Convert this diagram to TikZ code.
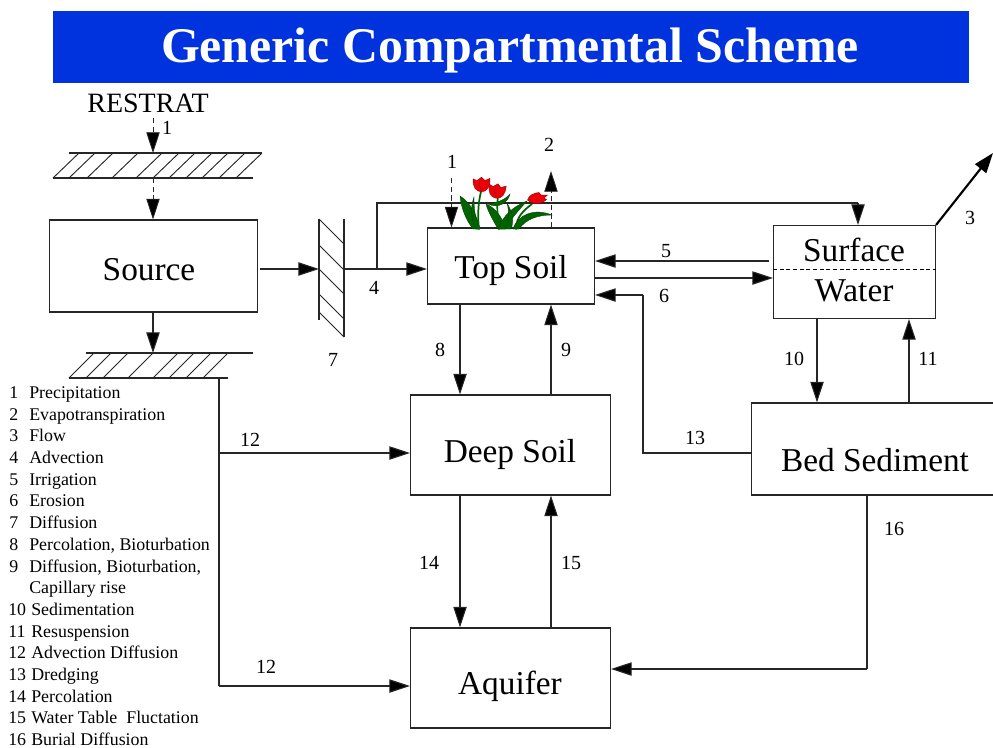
\documentclass[tikz,border=0pt]{standalone}
\usepackage{fontspec}
\setmainfont{Liberation Serif}
\usetikzlibrary{arrows.meta}
\definecolor{titleblue}{RGB}{0,51,221}
\definecolor{leaf}{RGB}{0,100,0}
\definecolor{leafd}{RGB}{0,60,0}
\definecolor{petal}{RGB}{235,0,10}
\definecolor{petald}{RGB}{150,0,0}
\tikzset{
  x=0.75pt,y=-0.75pt,
  ln/.style={draw=black!85,line width=0.8pt},
  flow/.style={ln,-{Triangle[length=15.5pt,width=10pt]},arrows={[fill=black]}},
  dflow/.style={flow,line width=0.6pt,dash pattern=on 4pt off 2.5pt},
  boxn/.style={draw=black!85,line width=0.8pt,inner sep=0pt},
  boxt/.style={font=\fontsize{25}{28}\selectfont,inner sep=0pt},
  num/.style={font=\fontsize{15}{17}\selectfont,inner sep=0pt},
  legend/.style={font=\fontsize{13.4}{15}\selectfont,inner sep=0pt,anchor=base west},
  hatch/.style={draw=black!85,line width=0.7pt},
  blade/.style={fill=leaf,draw=leafd,line width=0.25pt},
  stem/.style={draw=leaf,line width=1.3pt},
}
\newcommand{\tulip}[3]{%
  \begin{scope}[shift={(#1,#2)},rotate=#3,scale=1.12]
  \fill[petal,draw=petald,line width=0.3pt] (-7.5,-5) -- (-4,-3.5) -- (0,-6.5) -- (3,-3.5) -- (7.5,-5.5) .. controls (8,2) and (5,6.5) .. (0,6.5) .. controls (-5,6.5) and (-8,2) .. (-7.5,-5) -- cycle;
  \draw[petald,line width=0.3pt] (-2,-3) .. controls (-3,0) and (-2,3) .. (0,5);
  \end{scope}}
\begin{document}
\begin{tikzpicture}
\useasboundingbox (0,0) rectangle (993,747);
\fill[white] (0,0) rectangle (993,747);
% title
\node[fill=titleblue,minimum width=916*0.75pt,minimum height=72*0.75pt,inner sep=0pt] (banner) at (511,47) {};
\node[text=white,inner sep=0pt,font=\fontsize{37.4}{40}\selectfont\bfseries] (title) at (510,51) {Generic Compartmental Scheme};
% boxes
\node[boxn,minimum width=208*0.75pt,minimum height=92*0.75pt] (source) at (153.5,266) {};
\node[boxt] (sourcet) at (149,270) {Source};
\node[boxn,minimum width=167*0.75pt,minimum height=76*0.75pt] (top) at (511,266) {};
\node[boxt] (topt) at (511,270) {Top Soil};
\node[boxn,minimum width=162*0.75pt,minimum height=93*0.75pt] (surf) at (854.5,272) {};
\node[boxt] (surft) at (854,250) {Surface};
\node[boxt] (surfw) at (854,291) {Water};
\node[boxn,minimum width=200*0.75pt,minimum height=100*0.75pt] (deep) at (510.5,445) {};
\node[boxt] (deept) at (510,454) {Deep Soil};
\node[boxn,minimum width=247*0.75pt,minimum height=92*0.75pt] (bed) at (875,449) {};
\node[boxt] (bedt) at (875,460) {Bed Sediment};
\node[boxn,minimum width=200*0.75pt,minimum height=100*0.75pt] (aq) at (510.5,678) {};
\node[boxt] (aqt) at (510,686) {Aquifer};
\draw[line width=0.6pt,dash pattern=on 3pt off 2pt] (surf.west |- 0,269) -- (surf.east |- 0,269);
% RESTRAT
\node[font=\fontsize{21}{24}\selectfont,inner sep=0pt] (restrat) at (148,103) {RESTRAT};
\node[num] (n1a) at (167,128) {1};
% upper hatch
\coordinate (h1t) at (153,153);
\coordinate (h1b) at (153,178);
\draw[ln] (69,153) -- (262,153);
\draw[ln] (53,178) -- (253,178);
\foreach \x in {53,69,87,112,136,153,169,186,202,219,236}
  \draw[hatch] (\x,178) -- (\x+26,153);
\draw[dflow] (153,118) -- (h1t);
\draw[dflow] (h1b) -- (source.north -| h1b);
% lower hatch
\coordinate (h2t) at (153,353);
\draw[flow] (source.south -| h2t) -- (h2t);
\draw[ln] (86,353) -- (253,353);
\draw[ln] (69,378) -- (228,378);
\foreach \x in {69,86,103,128,153,169,186,203}
  \draw[hatch] (\x,378) -- (\x+25,353);
% vertical hatch 7
\draw[ln] (319,219) -- (319,320);
\draw[ln] (344,219) -- (344,337);
\foreach \y in {219,245,269,294,312}
  \draw[hatch] (319,\y) -- (344,\y+25);
\coordinate (h7l) at (319,269);
\coordinate (h7r) at (344,269);
\draw[flow] (260,269) -- (h7l);
\draw[flow] (h7r) -- (top.west |- h7r);
\node[num] (n7) at (333,360) {7};
\node[num] (n4) at (374,288) {4};
% line over to surface water
\coordinate (branch) at (377,269);
\coordinate (corner) at (377,203);
\coordinate (sw) at (858,203);
\draw[ln] (branch) -- (corner) -- (sw);
\draw[flow] (sw) -- (surf.north -| sw);
% flower
\begin{scope}[line cap=round]
\fill[blade] (460,196) .. controls (470,202) and (477,215) .. (480,229) -- (473,229) .. controls (466,220) and (461,208) .. (460,196) -- cycle;
\fill[blade] (474,197) .. controls (470,208) and (471,220) .. (476,229) -- (479,229) .. controls (475,218) and (474,208) .. (474,197) -- cycle;
\draw[stem] (479,229) .. controls (477,212) and (479,198) .. (482,188);
\fill[blade] (486,204) .. controls (496,208) and (503,218) .. (505,229) -- (498,229) .. controls (493,220) and (488,212) .. (486,204) -- cycle;
\draw[stem] (499,229) .. controls (497,216) and (497,205) .. (498,195);
\fill[blade] (488,204) .. controls (496,203) and (505,200) .. (510,194) .. controls (508,203) and (498,209) .. (488,204) -- cycle;
\fill[blade] (498,229) .. controls (503,216) and (512,207) .. (527,201) .. controls (519,210) and (510,220) .. (505,229) -- cycle;
\fill[blade] (505,229) .. controls (508,222) and (510,214) .. (507,203) .. controls (513,213) and (514,222) .. (511,229) -- cycle;
\draw[stem] (516,229) .. controls (516,217) and (524,210) .. (532,204);
\fill[blade] (513,229) .. controls (518,214) and (535,208) .. (552,215) .. controls (538,215) and (526,219) .. (519,229) -- cycle;
\end{scope}
\tulip{481.5}{184.5}{0}
\tulip{497}{191}{-8}
\fill[petal,draw=petald,line width=0.3pt] (527.5,200) .. controls (529,195) and (534,193) .. (539,192.5) -- (541,195) -- (547.5,195) -- (544,198) -- (546.5,199.5) .. controls (544,203) and (534,206) .. (527.5,200) -- cycle;
% top arrows
\node[num] (n1b) at (452,162) {1};
\node[num] (n2) at (549,145) {2};
\coordinate (a1) at (451.5,178);
\coordinate (a2) at (551,171);
\draw[dflow] (a1) -- (top.north -| a1);
\draw[dflow] (top.north -| a2) -- (a2);
% 5, irrigation etc.
\coordinate (i5) at (769,261);
\coordinate (r6) at (643,295);
\draw[flow] (i5) -- (top.east |- i5);
\draw[flow] (top.east |- 0,278) -- (surf.west |- 0,278);
\node[num] (n5) at (666,251) {5};
\node[num] (n6) at (664,296) {6};
% 3
\coordinate (f3) at (993,153);
\draw[line width=1.6pt,-{Triangle[length=15pt,width=10.5pt]}] (surf.north east) -- (f3);
\node[num] (n3) at (970,218) {3};
% 8, 9
\draw[flow] (top.south -| 460,0) -- (deep.north -| 460,0);
\draw[flow] (deep.north -| 551,0) -- (top.south -| 551,0);
\node[num] (n8) at (440,350) {8};
\node[num] (n9) at (566,350) {9};
% 10, 11
\draw[flow] (surf.south -| 817,0) -- (bed.north -| 817,0);
\draw[flow] (bed.north -| 909,0) -- (surf.south -| 909,0);
\node[num] (n10) at (794,359) {10};
\node[num] (n11) at (928,359) {11};
% 13
\draw[ln] (bed.west |- 0,453) -- (643,453) -- (r6);
\draw[flow] (r6) -- (top.east |- r6);
\node[num] (n13) at (695,438) {13};
% 12
\coordinate (v12) at (219,378);
\coordinate (j1) at (219,453);
\coordinate (j2) at (219,686);
\draw[ln] (v12) -- (j2);
\draw[flow] (j1) -- (deep.west |- j1);
\draw[flow] (j2) -- (aq.west |- j2);
\node[num] (n12a) at (250,440) {12};
\node[num] (n12b) at (266,667) {12};
% 14, 15
\draw[flow] (deep.south -| 460,0) -- (aq.north -| 460,0);
\draw[flow] (aq.north -| 551,0) -- (deep.south -| 551,0);
\node[num] (n14) at (429,563) {14};
\node[num] (n15) at (571,563) {15};
% 16
\coordinate (b16) at (867,669);
\draw[ln] (bed.south -| b16) -- (b16);
\draw[flow] (b16) -- (aq.east |- b16);
\node[num] (n16) at (894,529) {16};
% legend
\foreach \n/\t/\y in {1/Precipitation/398,2/Evapotranspiration/420,3/Flow/441,4/Advection/463,5/Irrigation/485,6/Erosion/506,7/Diffusion/528,8/{Percolation, Bioturbation}/550,9/{Diffusion, Bioturbation,}/572}{
  \node[legend] (ln\n) at (9,\y) {\n};
  \node[legend] (lt\n) at (29,\y) {\t};
}
\node[legend] (cap) at (29,593) {Capillary rise};
\foreach \n/\t/\y in {10/Sedimentation/615,11/Resuspension/637,12/Advection Diffusion/658,13/Dredging/680,14/Percolation/702,15/Water Table\ \ Fluctation/723,16/Burial Diffusion/745}{
  \node[legend] (ln\n) at (8,\y) {\n};
  \node[legend] (lt\n) at (31,\y) {\t};
}
\end{tikzpicture}
\end{document}
